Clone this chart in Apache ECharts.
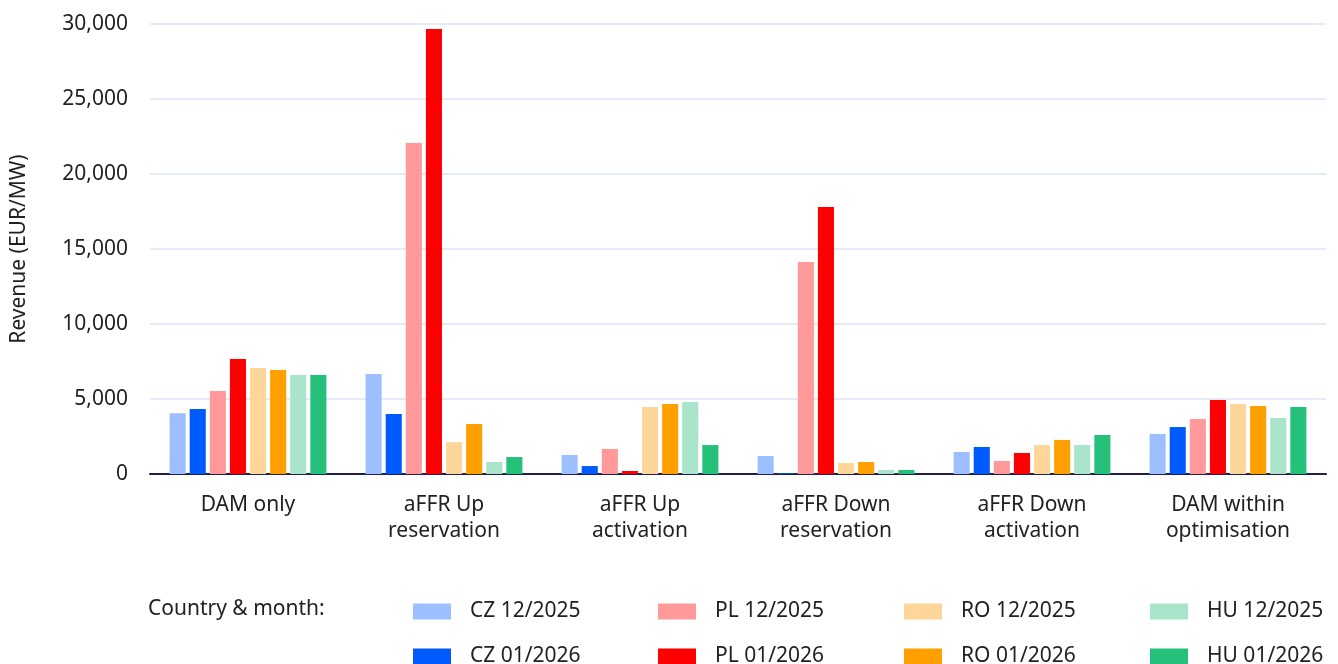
<!DOCTYPE html>
<html><head><meta charset="utf-8">
<script src="https://cdn.jsdelivr.net/npm/echarts@6/dist/echarts.min.js"></script>
<style>html,body{margin:0;padding:0;background:#fff}#c{width:1338px;height:664px}</style>
</head><body><div id="c"></div>
<script>
const categories = ['DAM only', 'aFFR Up\nreservation', 'aFFR Up\nactivation', 'aFFR Down\nreservation', 'aFFR Down\nactivation', 'DAM within\noptimisation'];
const yTicks = [0, 5000, 10000, 15000, 20000, 25000, 30000];
const cz12 = [4050, 6670, 1270, 1200, 1470, 2670];
const cz01 = [4330, 4000, 530, 50, 1800, 3130];
const pl12 = [5530, 22070, 1670, 14130, 870, 3670];
const pl01 = [7670, 29670, 200, 17800, 1400, 4930];
const ro12 = [7070, 2130, 4470, 730, 1930, 4670];
const ro01 = [6930, 3330, 4670, 800, 2270, 4530];
const hu12 = [6600, 800, 4800, 270, 1930, 3730];
const hu01 = [6600, 1130, 1930, 270, 2600, 4470];
const seriesNames = ['CZ 12/2025', 'CZ 01/2026', 'PL 12/2025', 'PL 01/2026', 'RO 12/2025', 'RO 01/2026', 'HU 12/2025', 'HU 01/2026'];
const seriesData = [cz12, cz01, pl12, pl01, ro12, ro01, hu12, hu01];
const colors = ['#9bbfff', '#005bff', '#ff999a', '#ff0000', '#ffd699', '#ff9f00', '#a9e5cb', '#25c07a'];

const FONT = '"Noto Sans", "Open Sans", sans-serif';
const FS = 21;
const chart = echarts.init(document.getElementById('c'));
const legendLefts = [408, 653, 899, 1145];
const legendTops = [596, 641];
chart.setOption({
  animation: false,
  textStyle: { fontFamily: FONT },
  title: { text: 'Country & month:', left: 143, top: 594, textStyle: { fontFamily: FONT, fontSize: FS, fontWeight: 'normal', color: '#222' } },
  legend: seriesNames.map((n, i) => ({
    left: legendLefts[Math.floor(i / 2)], top: legendTops[i % 2],
    itemWidth: 38, itemHeight: 16, icon: 'rect',
    data: [n],
    textStyle: { fontFamily: FONT, fontSize: FS, color: '#222', lineHeight: 16, padding: [0, 0, 0, 14] }
  })),
  grid: { left: 150, right: 12, top: 24, bottom: 190, containLabel: false },
  xAxis: {
    type: 'category', data: categories,
    axisLine: { lineStyle: { color: '#1e1e50', width: 2 } },
    axisTick: { show: false },
    axisLabel: { fontSize: FS, color: '#222', lineHeight: 26, margin: 18, fontFamily: FONT }
  },
  yAxis: {
    type: 'value', min: 0, max: 30000, interval: 5000,
    name: 'Revenue (EUR/MW)', nameLocation: 'middle', nameGap: 120,
    nameTextStyle: { fontSize: FS, color: '#222', fontFamily: FONT },
    axisLabel: { fontSize: FS, color: '#222', margin: 22, fontFamily: FONT,
      formatter: v => yTicks.includes(v) ? v.toLocaleString('en-US') : '' },
    splitLine: { lineStyle: { color: '#dde5f6', width: 1.5 } },
    axisLine: { show: false }, axisTick: { show: false }
  },
  series: seriesNames.map((n, i) => ({
    name: n, type: 'bar', data: seriesData[i],
    itemStyle: { color: colors[i] },
    barGap: '25%', barCategoryGap: '20%'
  }))
});
</script></body></html>
